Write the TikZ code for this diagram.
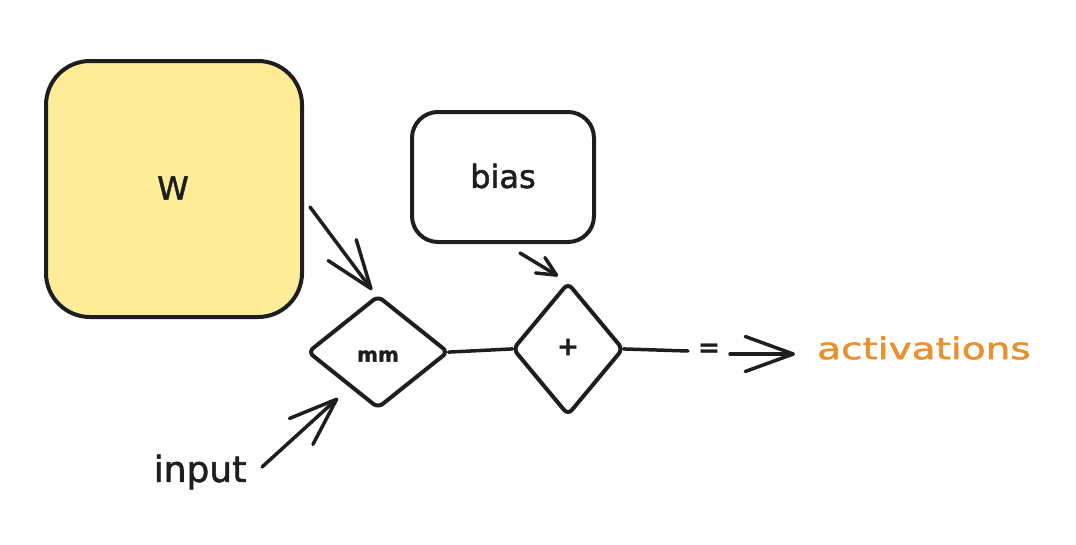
\documentclass[tikz,border=0pt]{standalone}
\usepackage{fontspec}
\setmainfont{DejaVu Sans}[FakeBold=1.6]
\usetikzlibrary{shapes.geometric,arrows.meta}
\definecolor{ink}{HTML}{1E1E1E}
\definecolor{wfill}{HTML}{FFEC99}
\definecolor{orng}{HTML}{E8912F}
\tikzset{
  box/.style={draw=ink, line width=4pt, rounded corners=#1, inner sep=0pt},
  dia/.style={diamond, draw=ink, line width=4pt, rounded corners=6pt, inner sep=0pt},
  conn/.style={draw=ink, line width=3.5pt, line cap=round, line join=round},
  bigarr/.style={conn, -{Straight Barb[length=48pt, width=35pt, line width=3.5pt, round]}},
  smallarr/.style={conn, -{Straight Barb[length=19pt, width=18pt, line width=3.5pt, round]}},
  lbl/.style={text=ink, inner sep=0pt}
}
\begin{document}
\begin{tikzpicture}[x=1pt, y=-1pt]
\useasboundingbox (0,0) rectangle (1076,544);
% boxes
\node[box=44pt, fill=wfill, minimum width=256pt, minimum height=256pt] (W) at (174,189) {};
\node[lbl, font=\fontsize{32pt}{32pt}\selectfont] (Wt) at (173,188) {W};
\node[box=26pt, fill=white, minimum width=182pt, minimum height=130pt] (bias) at (503,177) {};
\node[lbl, font=\fontsize{32pt}{32pt}\selectfont] (biast) at (503,176) {bias};
% diamonds
\node[dia, minimum width=141pt, minimum height=113pt] (mm) at (378,352) {};
\node[lbl, font=\fontsize{20pt}{20pt}\bfseries] (mmt) at (378,356) {mm};
\node[dia, minimum width=111pt, minimum height=133pt] (plus) at (568,349) {};
\node[lbl, font=\fontsize{26pt}{26pt}\bfseries] (plust) at (568,347) {+};
% texts
\node[lbl, font=\fontsize{36pt}{36pt}\selectfont] (input) at (200,472) {input};
\node[lbl, font=\fontsize{26pt}{26pt}\bfseries] (eq) at (709,350) {=};
\node[lbl, anchor=west, text=orng, font=\fontsize{30pt}{30pt}\selectfont] (act) at (817,348) {\scalebox{1.3}[1]{activations}};
% coordinates
\coordinate (wA) at (310,207);
\coordinate (wB) at (372,290);
\coordinate (bA) at (520,253);
\coordinate (bB) at (558,276);
\coordinate (iA) at (262,467);
\coordinate (iB) at (338,398);
\coordinate (pE) at (688,351);
\coordinate (aA) at (730,354);
\coordinate (aB) at (795,354);
% connectors
\draw[conn, shorten <=-2pt, shorten >=-2pt] (mm.east) -- (plus.west);
\draw[conn, shorten <=-2pt] (plus.east) -- (pE);
\draw[bigarr] (wA) -- (wB);
\draw[smallarr] (bA) -- (bB);
\draw[bigarr] (iA) -- (iB);
\draw[bigarr] (aA) -- (aB);
\end{tikzpicture}
\end{document}
